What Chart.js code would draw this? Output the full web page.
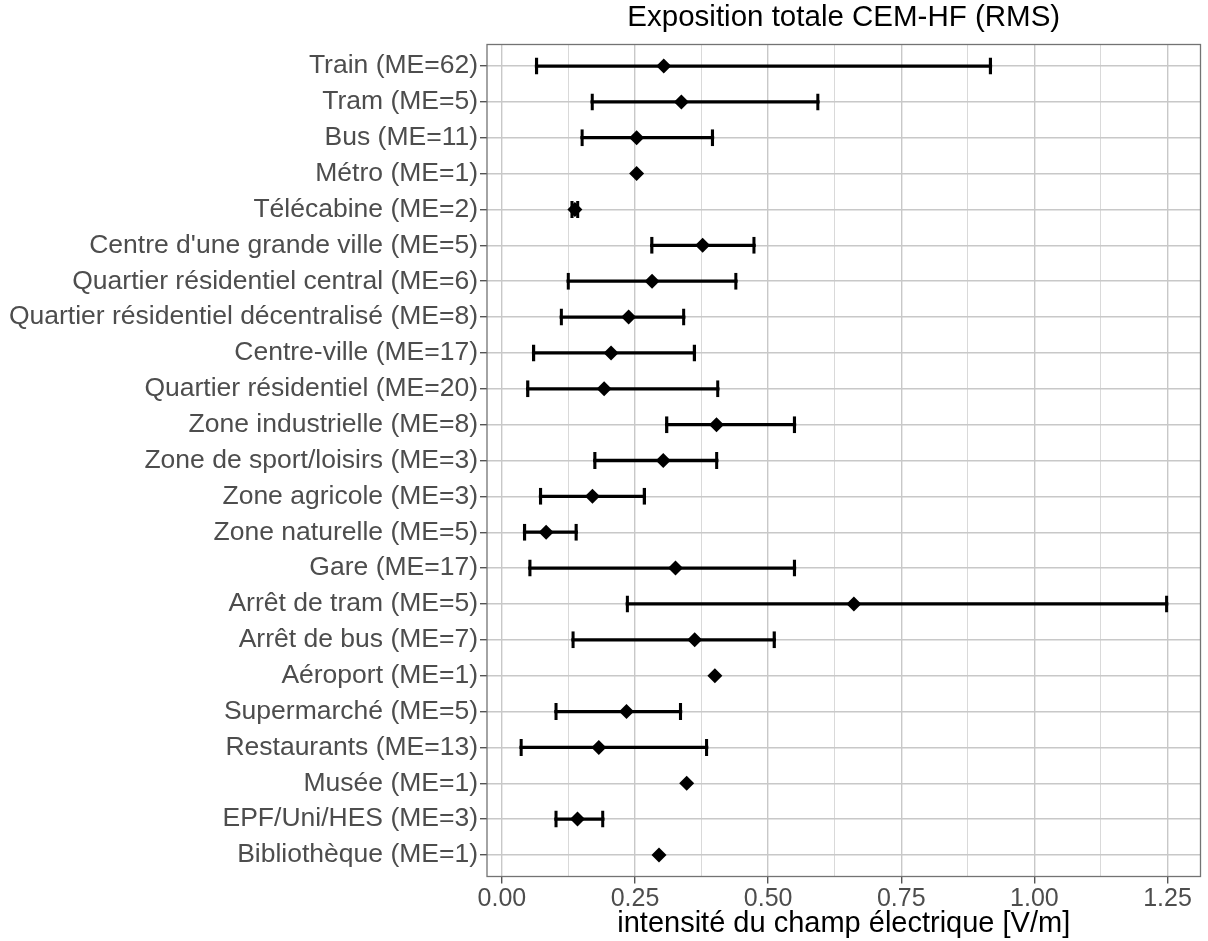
<!DOCTYPE html>
<html lang="fr">
<head>
<meta charset="utf-8">
<title>Exposition totale CEM-HF (RMS)</title>
<script src="https://cdn.jsdelivr.net/npm/chart.js@4.4.1/dist/chart.umd.min.js"></script>
<style>
  html, body { margin: 0; padding: 0; background: #fff; }
  #contenedor { width: 1208px; height: 941px; position: relative; }
</style>
</head>
<body>
<div id="contenedor"><canvas id="grafico"></canvas></div>
<script>
// lieux de mesure, de haut en bas
const categories = [
  "Train (ME=62)", "Tram (ME=5)", "Bus (ME=11)", "Métro (ME=1)", "Télécabine (ME=2)",
  "Centre d'une grande ville (ME=5)", "Quartier résidentiel central (ME=6)",
  "Quartier résidentiel décentralisé (ME=8)", "Centre-ville (ME=17)",
  "Quartier résidentiel (ME=20)", "Zone industrielle (ME=8)", "Zone de sport/loisirs (ME=3)",
  "Zone agricole (ME=3)", "Zone naturelle (ME=5)", "Gare (ME=17)", "Arrêt de tram (ME=5)",
  "Arrêt de bus (ME=7)", "Aéroport (ME=1)", "Supermarché (ME=5)", "Restaurants (ME=13)",
  "Musée (ME=1)", "EPF/Uni/HES (ME=3)", "Bibliothèque (ME=1)"
];
const rowIndex = [0, 1, 2, 3, 4, 5, 6, 7, 8, 9, 10, 11, 12, 13, 14, 15, 16, 17, 18, 19, 20, 21, 22];

// valeurs moyennes et bornes (V/m)
const means = [0.304, 0.337, 0.253, 0.253, 0.137, 0.377, 0.282, 0.238, 0.205, 0.192, 0.403, 0.303,
               0.170, 0.083, 0.326, 0.661, 0.362, 0.400, 0.234, 0.182, 0.347, 0.142, 0.295];
const lows  = [0.0625, 0.167, 0.148, null, 0.129, 0.279, 0.122, 0.109, 0.057, 0.046, 0.307, 0.172,
               0.070, 0.040, 0.050, 0.233, 0.131, null, 0.099, 0.0335, null, 0.099, null];
const highs = [0.920, 0.596, 0.398, null, 0.145, 0.476, 0.442, 0.344, 0.364, 0.408, 0.552, 0.406,
               0.270, 0.142, 0.552, 1.251, 0.514, null, 0.338, 0.387, null, 0.192, null];

// lignes de grille verticales (majeures tous les 0.25)
const gridValues = [0, 0.125, 0.25, 0.375, 0.5, 0.625, 0.75, 0.875, 1, 1.125, 1.25];
const xMin = -0.028;
const xMax = 1.312;

const FONT = "'Liberation Sans', Arial, sans-serif";

function esMayor(v) {
  return Math.abs(v / 0.25 - Math.round(v / 0.25)) < 1e-6;
}
function tickMayor(c) {
  return !!(c && c.tick && esMayor(c.tick.value));
}

const barras = rowIndex
  .filter((i) => lows[i] !== null)
  .map((i) => ({ y: i, x: [lows[i], highs[i]] }));
const puntos = rowIndex.map((i) => ({ x: means[i], y: i }));

// cadre du panneau
const marcoPanel = {
  id: "marcoPanel",
  afterDraw(chart) {
    const { ctx, chartArea: a } = chart;
    ctx.save();
    ctx.strokeStyle = "#737373";
    ctx.lineWidth = 1.3;
    ctx.strokeRect(a.left, a.top, a.right - a.left, a.bottom - a.top);
    ctx.restore();
  },
};

new Chart(document.getElementById("grafico"), {
  type: "bar",
  data: {
    datasets: [
      {
        type: "scatter",
        data: puntos,
        xAxisID: "x",
        yAxisID: "y",
        pointStyle: "rectRot",
        pointRadius: 7.5,
        backgroundColor: "#000",
        borderColor: "#000",
        borderWidth: 0,
        order: 0,
      },
      {
        data: barras,
        xAxisID: "x",
        yAxisID: "y",
        grouped: false,
        barThickness: 2.6,
        backgroundColor: "#000",
        borderWidth: 0,
        order: 1,
      },
      {
        data: barras,
        xAxisID: "x",
        yAxisID: "y",
        grouped: false,
        barThickness: 17,
        backgroundColor: "rgba(0,0,0,0)",
        borderColor: "#000",
        borderWidth: { left: 2.6, right: 2.6, top: 0, bottom: 0 },
        borderSkipped: false,
        order: 2,
      },
    ],
  },
  options: {
    indexAxis: "y",
    responsive: true,
    maintainAspectRatio: false,
    animation: false,
    layout: { padding: { left: 0, right: 5, top: 0, bottom: 0 } },
    scales: {
      x: {
        type: "linear",
        position: "bottom",
        min: xMin,
        max: xMax,
        offset: false,
        afterBuildTicks: (s) => { s.ticks = gridValues.map((v) => ({ value: v })); },
        afterFit: (s) => { s.height = 64.5; },
        border: { display: false },
        grid: {
          offset: false,
          color: (c) => (tickMayor(c) ? "#c8c8c8" : "#d9d9d9"),
          lineWidth: (c) => (tickMayor(c) ? 1.4 : 1),
          tickColor: (c) => (tickMayor(c) ? "#555" : "rgba(0,0,0,0)"),
          tickLength: 7,
        },
        ticks: {
          autoSkip: false,
          maxRotation: 0,
          padding: 1,
          color: "#4d4d4d",
          font: { family: FONT, size: 25 },
          callback: (v) => (esMayor(v) ? v.toFixed(2) : ""),
        },
        title: {
          display: true,
          text: "intensité du champ électrique [V/m]",
          color: "#000",
          font: { family: FONT, size: 29 },
          padding: { top: 0, bottom: 0 },
        },
      },
      x2: {
        type: "linear",
        position: "top",
        offset: false,
        afterFit: (s) => { s.height = 44.5; },
        border: { display: false },
        grid: { display: false, offset: false },
        ticks: { display: false },
        title: {
          display: true,
          text: "Exposition totale CEM-HF (RMS)",
          color: "#000",
          font: { family: FONT, size: 29.5 },
          padding: { top: 0, bottom: 0 },
        },
      },
      y: {
        type: "linear",
        reverse: true,
        min: -0.6,
        max: 22.6,
        offset: false,
        afterBuildTicks: (s) => { s.ticks = rowIndex.map((v) => ({ value: v })); },
        afterFit: (s) => { s.width = 487; },
        border: { display: false },
        grid: {
          offset: false,
          color: "#c8c8c8",
          lineWidth: 1.4,
          tickColor: "#555",
          tickLength: 7,
        },
        ticks: {
          autoSkip: false,
          padding: 2,
          color: "#4d4d4d",
          font: { family: FONT, size: 26.5 },
          callback: (v) => categories[v],
        },
      },
    },
    plugins: {
      legend: { display: false },
      tooltip: { enabled: false },
    },
  },
  plugins: [marcoPanel],
});
</script>
</body>
</html>
